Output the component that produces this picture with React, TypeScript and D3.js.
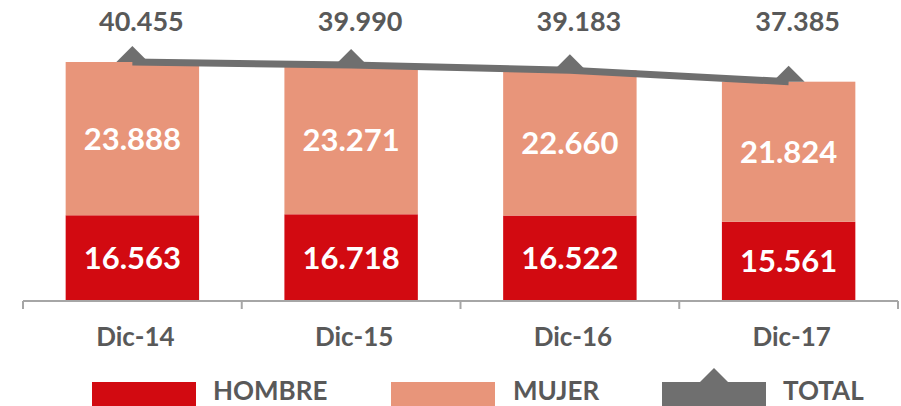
import * as d3 from "d3";

const categories = ["Dic-14", "Dic-15", "Dic-16", "Dic-17"];
const hombre = [16563, 16718, 16522, 15561];
const mujer = [23888, 23271, 22660, 21824];
const total = [40455, 39990, 39183, 37385];

const RED = "#D20A11";
const SALMON = "#E8957A";
const LINE = "#6F6F6F";
const TEXT = "#595959";
const AXIS = "#A6A6A6";
const FONT = "Lato, 'Open Sans', sans-serif";

const fmt = (v: number) => d3.format(",")(v).replace(/,/g, ".");

export default function App() {
  const width = 901;
  const height = 406;
  const axisY = 301;

  const x = d3
    .scaleBand()
    .domain(categories)
    .range([23, 898])
    .paddingInner(0.39)
    .paddingOuter(0.195);
  // axis minimum set above zero, as in the source chart
  const y = d3.scaleLinear().domain([3200, 40455]).range([axisY, 62]);

  const cx = (c: string) => (x(c) ?? 0) + x.bandwidth() / 2;
  const step = x.step();
  const ticks = d3.range(categories.length + 1).map((i) => 23 + i * step);

  const line = d3
    .line<number>()
    .x((_, i) => cx(categories[i]))
    .y((d) => y(d));

  const tri = "M0,-16L16,0L-16,0Z";

  const legend = [
    { label: "HOMBRE", color: RED, x: 92, tx: 213 },
    { label: "MUJER", color: SALMON, x: 391, tx: 513 },
    { label: "TOTAL", color: LINE, x: 662, tx: 783 },
  ];

  return (
    <svg
      width={width}
      height={height}
      style={{ position: "absolute", left: 0, top: 0, background: "#fff" }}
      fontFamily={FONT}
      fontWeight={700}
    >
      {categories.map((c, i) => {
        const bx = x(c) ?? 0;
        const yH = y(hombre[i]);
        const yT = y(total[i]);
        return (
          <g key={c}>
            <rect x={bx} y={yH} width={x.bandwidth()} height={axisY - yH} fill={RED} />
            <rect x={bx} y={yT} width={x.bandwidth()} height={yH - yT} fill={SALMON} />
            <text
              x={cx(c)}
              y={(yH + axisY) / 2 + 11}
              fill="#fff"
              fontSize={31}
              textAnchor="middle"
            >
              {fmt(hombre[i])}
            </text>
            <text
              x={cx(c)}
              y={(yT + yH) / 2 + 11}
              fill="#fff"
              fontSize={31}
              textAnchor="middle"
            >
              {fmt(mujer[i])}
            </text>
            <text x={cx(c) + 9} y={31} fill={TEXT} fontSize={27} textAnchor="middle">
              {fmt(total[i])}
            </text>
            <text x={cx(c) + 3} y={346} fill={TEXT} fontSize={26} textAnchor="middle">
              {c}
            </text>
          </g>
        );
      })}

      {/* category axis */}
      <line x1={23} x2={898} y1={axisY} y2={axisY} stroke={AXIS} strokeWidth={2} />
      {ticks.map((t, i) => (
        <line key={i} x1={t} x2={t} y1={axisY} y2={axisY + 8} stroke={AXIS} strokeWidth={2} />
      ))}

      {/* total line */}
      <path d={line(total) ?? ""} fill="none" stroke={LINE} strokeWidth={7} />
      {total.map((v, i) => (
        <path key={i} d={tri} fill={LINE} transform={`translate(${cx(categories[i])},${y(v)})`} />
      ))}

      {/* legend */}
      {legend.map((l) => (
        <g key={l.label}>
          <rect x={l.x} y={382} width={104} height={30} fill={l.color} />
          {l.label === "TOTAL" && (
            <path d={tri} fill={LINE} transform={`translate(${l.x + 52},${384})`} />
          )}
          <text x={l.tx} y={400} fill={TEXT} fontSize={26}>
            {l.label}
          </text>
        </g>
      ))}
    </svg>
  );
}
